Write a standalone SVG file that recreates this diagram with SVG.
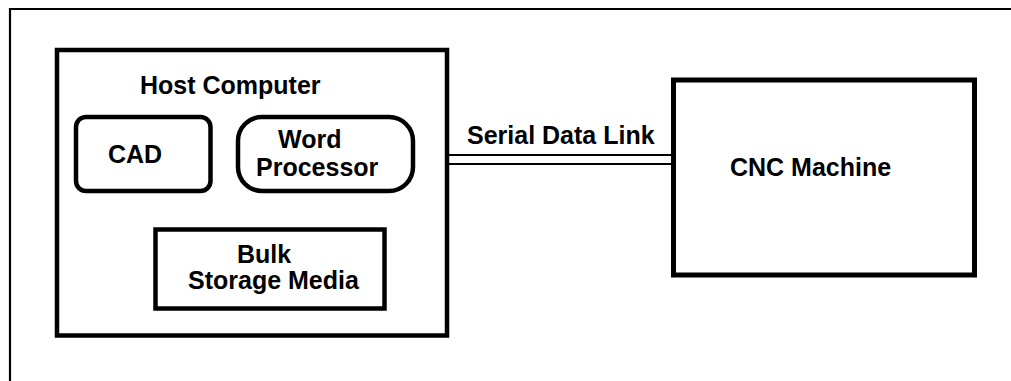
<svg xmlns="http://www.w3.org/2000/svg" width="1011" height="381" viewBox="0 0 1011 381">
<style>
.box{fill:none;stroke:#000;stroke-width:4.5}
.t{font-family:"Liberation Sans",Arial,sans-serif;font-weight:bold;font-size:25px;fill:#000}
.link{stroke:#000;stroke-width:1.8;fill:none}
</style>
<rect width="1011" height="381" fill="#fff"/>
<path d="M10,381 V9 H1011" fill="none" stroke="#000" stroke-width="2.2"/>
<g id="host">
<rect class="box" x="57" y="50" width="390" height="285.5"/>
<text class="t" x="140" y="94">Host Computer</text>
</g>
<g id="cad">
<rect class="box" x="76" y="117" width="134.5" height="74" rx="10"/>
<text class="t" x="108" y="163">CAD</text>
</g>
<g id="word">
<rect class="box" x="238" y="117" width="175" height="74" rx="24"/>
<text class="t" x="278" y="148">Word</text>
<text class="t" x="256" y="176">Processor</text>
</g>
<g id="bulk">
<rect class="box" x="155.5" y="229.5" width="229" height="79"/>
<text class="t" x="237" y="263">Bulk</text>
<text class="t" x="188" y="289">Storage Media</text>
</g>
<g id="cnc">
<rect class="box" x="673.5" y="80" width="301" height="195" style="stroke-width:5"/>
<text class="t" x="730" y="176">CNC Machine</text>
</g>
<g id="connectors">
<path class="link" d="M449,155 H672 M449,164 H672"/>
<text class="t" x="467" y="144">Serial Data Link</text>
</g>
</svg>
